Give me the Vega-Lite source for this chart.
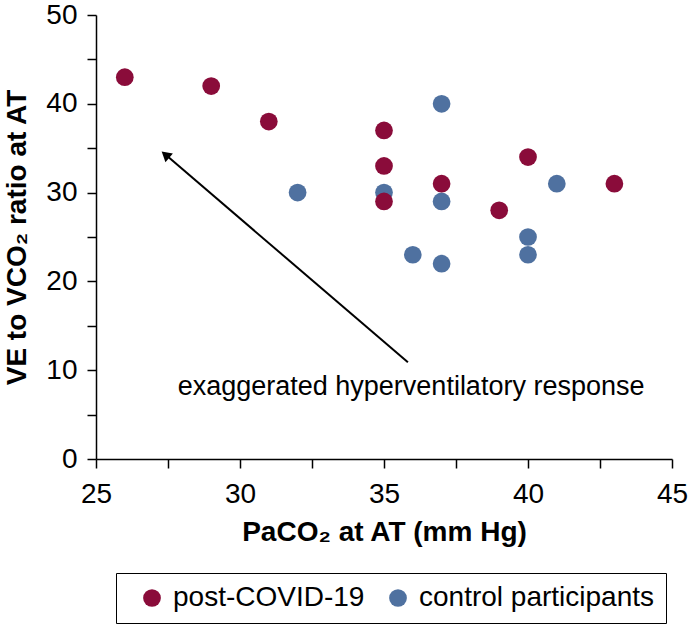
{
  "$schema": "https://vega.github.io/schema/vega-lite/v6.json",
  "autosize": {"type": "none"},
  "width": 576,
  "height": 444,
  "padding": {"left": 96, "top": 15, "right": 16, "bottom": 165},
  "background": "white",
  "config": {
    "view": {"stroke": null},
    "font": "Liberation Sans",
    "axis": {
      "domainColor": "black",
      "domainWidth": 1.5,
      "tickColor": "black",
      "tickWidth": 1.5,
      "tickSize": 9,
      "grid": false,
      "labelFont": "Liberation Sans",
      "labelFontSize": 28,
      "labelColor": "black",
      "titleFont": "Liberation Sans",
      "titleFontSize": 28,
      "titleFontWeight": "bold",
      "titleColor": "black"
    }
  },
  "datasets": {
    "points": [
      {"paco2": 26, "ratio": 43, "group": "post-COVID-19"},
      {"paco2": 29, "ratio": 42, "group": "post-COVID-19"},
      {"paco2": 31, "ratio": 38, "group": "post-COVID-19"},
      {"paco2": 32, "ratio": 30, "group": "control participants"},
      {"paco2": 35, "ratio": 30, "group": "control participants"},
      {"paco2": 37, "ratio": 40, "group": "control participants"},
      {"paco2": 37, "ratio": 29, "group": "control participants"},
      {"paco2": 36, "ratio": 23, "group": "control participants"},
      {"paco2": 37, "ratio": 22, "group": "control participants"},
      {"paco2": 41, "ratio": 31, "group": "control participants"},
      {"paco2": 40, "ratio": 25, "group": "control participants"},
      {"paco2": 40, "ratio": 23, "group": "control participants"},
      {"paco2": 35, "ratio": 37, "group": "post-COVID-19"},
      {"paco2": 35, "ratio": 33, "group": "post-COVID-19"},
      {"paco2": 35, "ratio": 29, "group": "post-COVID-19"},
      {"paco2": 37, "ratio": 31, "group": "post-COVID-19"},
      {"paco2": 39, "ratio": 28, "group": "post-COVID-19"},
      {"paco2": 40, "ratio": 34, "group": "post-COVID-19"},
      {"paco2": 43, "ratio": 31, "group": "post-COVID-19"}
    ],
    "arrow": [
      {"x": 35.83, "y": 10.9, "x2": 27.41, "y2": 34.28}
    ],
    "head": [
      {"x": 27.41, "y": 34.28}
    ],
    "note": [
      {"x": 35.94, "y": 7.2, "label": "exaggerated hyperventilatory response"}
    ]
  },
  "layer": [
    {
      "data": {"name": "arrow"},
      "mark": {"type": "rule", "color": "black", "strokeWidth": 2},
      "encoding": {
        "x": {"field": "x", "type": "quantitative", "scale": {"domain": [25, 45]}},
        "y": {"field": "y", "type": "quantitative", "scale": {"domain": [0, 50]}},
        "x2": {"field": "x2"},
        "y2": {"field": "y2"}
      }
    },
    {
      "data": {"name": "head"},
      "mark": {"type": "point", "shape": "triangle-up", "filled": true, "color": "black", "size": 130, "angle": -49.5, "opacity": 1},
      "encoding": {
        "x": {"field": "x", "type": "quantitative"},
        "y": {"field": "y", "type": "quantitative"}
      }
    },
    {
      "data": {"name": "note"},
      "mark": {"type": "text", "fontSize": 27, "color": "black", "align": "center", "baseline": "alphabetic", "font": "Liberation Sans"},
      "encoding": {
        "x": {"field": "x", "type": "quantitative"},
        "y": {"field": "y", "type": "quantitative"},
        "text": {"field": "label"}
      }
    },
    {
      "data": {"name": "points"},
      "mark": {"type": "point", "filled": true, "size": 314, "opacity": 1},
      "encoding": {
        "x": {
          "field": "paco2",
          "type": "quantitative",
          "scale": {"domain": [25, 45], "nice": false, "zero": false},
          "axis": {
            "title": "PaCO₂ at AT (mm Hg)",
            "values": [25, 27.5, 30, 32.5, 35, 37.5, 40, 42.5, 45],
            "labelExpr": "datum.value % 5 == 0 ? datum.label : ''",
            "labelPadding": 12,
            "titlePadding": 10,
            "labelFlush": false
          }
        },
        "y": {
          "field": "ratio",
          "type": "quantitative",
          "scale": {"domain": [0, 50], "nice": false},
          "axis": {
            "title": "VE to VCO₂ ratio at AT",
            "values": [0, 5, 10, 15, 20, 25, 30, 35, 40, 45, 50],
            "labelExpr": "datum.value % 10 == 0 ? datum.label : ''",
            "labelPadding": 10,
            "titlePadding": 14,
            "labelFlush": false
          }
        },
        "color": {
          "field": "group",
          "type": "nominal",
          "scale": {"domain": ["post-COVID-19", "control participants"], "range": ["#8a0c3a", "#4f71a0"]},
          "legend": {
            "title": null,
            "orient": "none",
            "legendX": 20,
            "legendY": 558,
            "direction": "horizontal",
            "strokeColor": "black",
            "padding": 11,
            "labelFontSize": 28,
            "labelFont": "Liberation Sans",
            "labelColor": "black",
            "symbolSize": 314,
            "symbolType": "circle",
            "symbolStrokeWidth": 0,
            "symbolOffset": 11,
            "columnPadding": 8,
            "labelOffset": 7,
            "labelLimit": 400,
            "encode": {"legend": {"update": {"strokeWidth": {"value": 1.5}}}}
          }
        }
      }
    }
  ]
}
